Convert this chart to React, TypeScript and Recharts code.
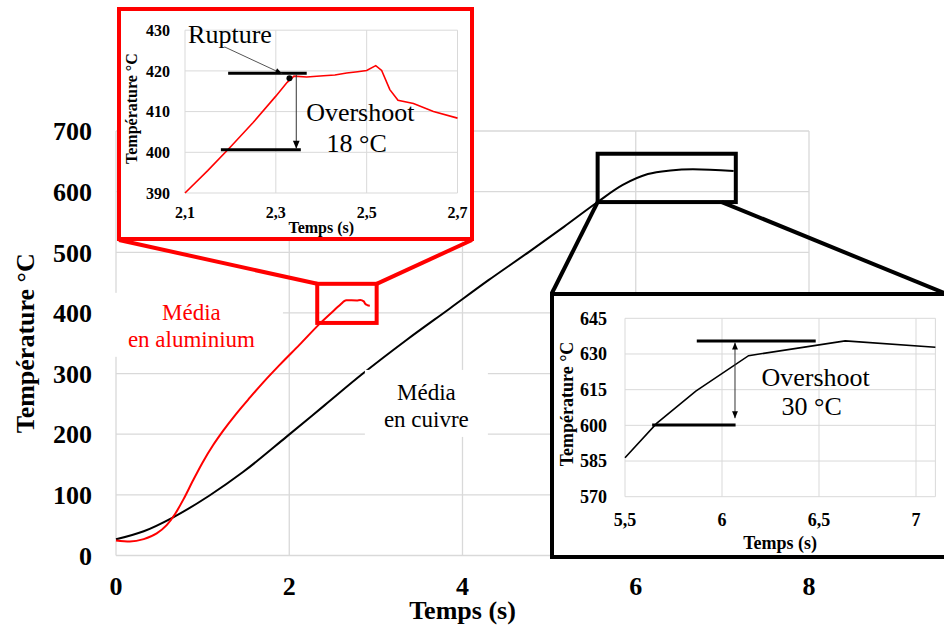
import {
  CartesianGrid,
  Label,
  Line,
  LineChart,
  ReferenceArea,
  ReferenceDot,
  ReferenceLine,
  XAxis,
  YAxis,
} from "recharts"

const SERIF = "'Liberation Serif', 'Times New Roman', serif"
const RED = "#ff0000"
const GRID = "#d9d9d9"

// Courbe principale : média en cuivre (temps s, température °C)
const cuivreTemps = [0, 0.32, 0.66, 1.08, 1.47, 1.97, 2.41, 2.85, 3.35, 3.85, 4.3, 4.78, 5.17, 5.56, 5.85, 6.14, 6.4, 6.66, 7.13]
const cuivreTemp = [26.7, 40, 63, 99, 138, 196, 248, 300, 355, 407, 454, 502, 542, 583, 611, 629, 635, 637, 634]

// Courbe principale : média en aluminium
const aluTemps = [0, 0.16, 0.32, 0.47, 0.585, 0.68, 0.78, 0.89, 1.0, 1.12, 1.24, 1.39, 1.55, 1.7, 1.89, 2.12, 2.35, 2.6, 2.63, 2.66, 2.78, 2.82, 2.86, 2.875, 2.9, 2.93]
const aluTemp = [24.6, 23, 27, 36.4, 50, 68, 93, 124, 153.5, 181.7, 206.3, 234, 261, 285.5, 314.4, 347.8, 382, 415, 419, 421, 420.6, 421.2, 419, 415.5, 413, 412]

// Zoom rupture (aluminium)
const zoomAluTemps = [2.1, 2.15, 2.2, 2.25, 2.3, 2.325, 2.34, 2.368, 2.405, 2.43, 2.456, 2.48, 2.5, 2.52, 2.533, 2.551, 2.569, 2.603, 2.647, 2.7]
const zoomAluTemp = [390, 395.5, 401.3, 407.3, 413.8, 417.2, 418.7, 418.5, 418.8, 419.0, 419.5, 419.8, 420.1, 421.3, 420.1, 415.4, 412.8, 412, 410, 408.4]

// Zoom overshoot (cuivre)
const zoomCuTemps = [5.5, 5.663, 5.865, 6.137, 6.635, 7.1]
const zoomCuTemp = [586.4, 600.8, 614.4, 629.3, 635.5, 632.8]

const mainXTicks = [0, 2, 4, 6, 8]
const mainYTicks = [0, 100, 200, 300, 400, 500, 600, 700]
const aluXTicks = [2.1, 2.3, 2.5, 2.7]
const aluYTicks = [390, 400, 410, 420, 430]
const cuXTicks = [5.5, 6, 6.5, 7]
const cuYTicks = [570, 585, 600, 615, 630, 645]

const toPts = (ts: number[], vs: number[]) => ts.map((t, i) => ({ t, c: vs[i] }))
const comma = (v: number) => String(v).replace(".", ",")

function textShape(text: string, size: number, color = "#000") {
  return (p: { cx?: number; cy?: number }) => (
    <text
      x={p.cx ?? 0}
      y={p.cy ?? 0}
      textAnchor="middle"
      dominantBaseline="central"
      fontFamily={SERIF}
      fontSize={size}
      fill={color}
    >
      {text}
    </text>
  )
}

/** Étiquette sur fond blanc (masque la grille). */
function boxedLabel(lines: string[], color: string, w: number, h: number, offsets: number[]) {
  return (p: { cx?: number; cy?: number }) => {
    const cx = p.cx ?? 0
    const cy = p.cy ?? 0
    return (
      <g>
        <rect x={cx - w / 2} y={cy - h / 2} width={w} height={h} fill="#fff" />
        {lines.map((l, i) => (
          <text
            key={l}
            x={cx}
            y={cy + offsets[i]}
            textAnchor="middle"
            dominantBaseline="central"
            fontFamily={SERIF}
            fontSize={23}
            fill={color}
          >
            {l}
          </text>
        ))}
      </g>
    )
  }
}

function arrowShape(both: boolean, size: number, color = "#333") {
  return (p: { x1?: number; y1?: number; x2?: number; y2?: number }) => {
    const x1 = p.x1 ?? 0
    const y1 = p.y1 ?? 0
    const x2 = p.x2 ?? 0
    const y2 = p.y2 ?? 0
    const head = (tx: number, ty: number, fx: number, fy: number) => {
      const a = Math.atan2(ty - fy, tx - fx)
      const bx = tx - size * Math.cos(a)
      const by = ty - size * Math.sin(a)
      const w = size * 0.42
      const pts = [
        [tx, ty],
        [bx + w * Math.sin(a), by - w * Math.cos(a)],
        [bx - w * Math.sin(a), by + w * Math.cos(a)],
      ]
      return <polygon points={pts.map((q) => q.join(",")).join(" ")} fill="#000" />
    }
    return (
      <g>
        <line x1={x1} y1={y1} x2={x2} y2={y2} stroke={color} strokeWidth={1} />
        {head(x2, y2, x1, y1)}
        {both && head(x1, y1, x2, y2)}
      </g>
    )
  }
}

/** Cadre de zoom + traits vers l'encart. */
function zoomFrame(color: string, left: [number, number], right: [number, number], fromBottom: boolean, rightInset = 0) {
  return (p: { x?: number; y?: number; width?: number; height?: number }) => {
    const x = p.x ?? 0
    const y = p.y ?? 0
    const w = p.width ?? 0
    const h = p.height ?? 0
    const yy = fromBottom ? y + h : y
    return (
      <g>
        <rect x={x} y={y} width={w} height={h} fill="none" stroke={color} strokeWidth={4} />
        <line x1={x} y1={yy} x2={left[0]} y2={left[1]} stroke={color} strokeWidth={4} />
        <line x1={x + w - rightInset} y1={yy} x2={right[0]} y2={right[1]} stroke={color} strokeWidth={4} />
      </g>
    )
  }
}

function yTitle(text: string, size: number, dx: number, dy = 0) {
  return (props: { viewBox?: { x: number; y: number; width: number; height: number } }) => {
    const vb = props.viewBox ?? { x: 0, y: 0, width: 0, height: 0 }
    const cx = vb.x + dx
    const cy = vb.y + vb.height / 2 + dy
    return (
      <text
        x={cx}
        y={cy}
        transform={`rotate(-90 ${cx} ${cy})`}
        textAnchor="middle"
        dominantBaseline="central"
        fontFamily={SERIF}
        fontSize={size}
        fontWeight="bold"
        fill="#000"
      >
        {text}
      </text>
    )
  }
}

function xTitle(text: string, size: number, dy: number) {
  return (props: { viewBox?: { x: number; y: number; width: number; height: number } }) => {
    const vb = props.viewBox ?? { x: 0, y: 0, width: 0, height: 0 }
    return (
      <text
        x={vb.x + vb.width / 2}
        y={vb.y + dy}
        textAnchor="middle"
        fontFamily={SERIF}
        fontSize={size}
        fontWeight="bold"
        fill="#000"
      >
        {text}
      </text>
    )
  }
}

function MainChart() {
  return (
    <LineChart width={944} height={626} margin={{ top: 131, right: 135, bottom: 0, left: 0 }}>
      <CartesianGrid stroke={GRID} strokeWidth={1.3} />
      <XAxis
        type="number"
        dataKey="t"
        domain={[0, 8]}
        ticks={mainXTicks}
        interval={0}
        height={70.5}
        tickLine={false}
        axisLine={false}
        tickMargin={15}
        tick={{ fill: "#000", fontSize: 26, fontWeight: "bold", fontFamily: SERIF }}
      >
        <Label content={xTitle("Temps (s)", 26, 63.5)} />
      </XAxis>
      <YAxis
        type="number"
        domain={[0, 700]}
        ticks={mainYTicks}
        interval={0}
        width={116}
        tickLine={false}
        axisLine={false}
        tickMargin={18}
        tick={{ fill: "#000", fontSize: 26, fontWeight: "bold", fontFamily: SERIF }}
      >
        <Label content={yTitle("Température °C", 26, 25)} />
      </YAxis>
      <ReferenceDot
        x={0.871}
        y={380.4}
        r={0}
        shape={boxedLabel(["Média", "en aluminium"], RED, 183, 64, [-12, 15])}
      />
      <ReferenceDot
        x={3.583}
        y={250.8}
        r={0}
        shape={boxedLabel(["Média", "en cuivre"], "#000", 123, 67, [-10.5, 16.5])}
      />
      <Line
        data={toPts(cuivreTemps, cuivreTemp)}
        dataKey="c"
        type="monotone"
        stroke="#000"
        strokeWidth={2}
        dot={false}
        isAnimationActive={false}
      />
      <Line
        data={toPts(aluTemps, aluTemp)}
        dataKey="c"
        type="monotone"
        stroke={RED}
        strokeWidth={2}
        dot={false}
        isAnimationActive={false}
      />
      <ReferenceArea
        x1={2.323}
        x2={3.009}
        y1={383.5}
        y2={448}
        shape={zoomFrame(RED, [119, 240], [472, 240], false)}
      />
      <ReferenceArea
        x1={5.56}
        x2={7.155}
        y1={582.8}
        y2={662.5}
        shape={zoomFrame("#000", [552, 293], [944, 293], true, 14)}
      />
    </LineChart>
  )
}

function AluInset() {
  return (
    <div
      style={{
        position: "absolute",
        left: 117,
        top: 7,
        width: 357,
        height: 234,
        border: `4px solid ${RED}`,
        boxSizing: "border-box",
        background: "#fff",
      }}
    >
      <LineChart width={349} height={226} margin={{ top: 19.2, right: 12.5, bottom: 0, left: 0 }}>
        <CartesianGrid stroke={GRID} />
        <XAxis
          type="number"
          dataKey="t"
          domain={[2.1, 2.7]}
          ticks={aluXTicks}
          interval={0}
          height={44}
          tickLine={false}
          axisLine={false}
          tickMargin={8}
          tickFormatter={comma}
          tick={{ fill: "#000", fontSize: 16, fontWeight: "bold", fontFamily: SERIF }}
        >
          <Label content={xTitle("Temps (s)", 16, 40)} />
        </XAxis>
        <YAxis
          type="number"
          domain={[390, 430]}
          ticks={aluYTicks}
          interval={0}
          width={64}
          tickLine={false}
          axisLine={false}
          tickMargin={9}
          tick={{ fill: "#000", fontSize: 16, fontWeight: "bold", fontFamily: SERIF }}
        >
          <Label content={yTitle("Température °C", 16, 10.7, -3)} />
        </YAxis>
        <Line
          data={toPts(zoomAluTemps, zoomAluTemp)}
          dataKey="c"
          type="linear"
          stroke={RED}
          strokeWidth={1.6}
          dot={false}
          isAnimationActive={false}
        />
        <ReferenceLine segment={[{ x: 2.195, y: 419.4 }, { x: 2.368, y: 419.4 }]} stroke="#000" strokeWidth={3} />
        <ReferenceLine segment={[{ x: 2.179, y: 400.6 }, { x: 2.355, y: 400.6 }]} stroke="#000" strokeWidth={3} />
        <ReferenceLine segment={[{ x: 2.345, y: 419.2 }, { x: 2.345, y: 400.9 }]} shape={arrowShape(false, 8)} />
        <ReferenceLine segment={[{ x: 2.187, y: 425.9 }, { x: 2.314, y: 419.3 }]} shape={arrowShape(false, 7, "#555")} />
        <ReferenceDot x={2.33} y={418.2} r={3} fill="#000" stroke="none" />
        <ReferenceDot x={2.199} y={428.9} r={0} shape={textShape("Rupture", 26)} />
        <ReferenceDot x={2.486} y={409.8} r={0} shape={textShape("Overshoot", 26)} />
        <ReferenceDot x={2.478} y={402.1} r={0} shape={textShape("18 °C", 26)} />
      </LineChart>
    </div>
  )
}

function CuivreInset() {
  return (
    <div
      style={{
        position: "absolute",
        left: 550,
        top: 292,
        width: 404,
        height: 267,
        border: "4px solid #000",
        boxSizing: "border-box",
        background: "#fff",
      }}
    >
      <LineChart width={396} height={259} margin={{ top: 22.3, right: 14.6, bottom: 0, left: 0 }}>
        <CartesianGrid stroke={GRID} />
        <XAxis
          type="number"
          dataKey="t"
          domain={[5.5, 7.1]}
          ticks={cuXTicks}
          interval={0}
          height={58.3}
          tickLine={false}
          axisLine={false}
          tickMargin={10.6}
          tickFormatter={comma}
          tick={{ fill: "#000", fontSize: 18, fontWeight: "bold", fontFamily: SERIF }}
        >
          <Label content={xTitle("Temps (s)", 18, 52.3)} />
        </XAxis>
        <YAxis
          type="number"
          domain={[570, 645]}
          ticks={cuYTicks}
          interval={0}
          width={71}
          tickLine={false}
          axisLine={false}
          tickMargin={12}
          tick={{ fill: "#000", fontSize: 18, fontWeight: "bold", fontFamily: SERIF }}
        >
          <Label content={yTitle("Température °C", 18, 12.7, -3.5)} />
        </YAxis>
        <Line
          data={toPts(zoomCuTemps, zoomCuTemp)}
          dataKey="c"
          type="linear"
          stroke="#000"
          strokeWidth={1.6}
          dot={false}
          isAnimationActive={false}
        />
        <ReferenceLine segment={[{ x: 5.87, y: 635.5 }, { x: 6.483, y: 635.5 }]} stroke="#000" strokeWidth={3} />
        <ReferenceLine segment={[{ x: 5.64, y: 600.1 }, { x: 6.07, y: 600.1 }]} stroke="#000" strokeWidth={3} />
        <ReferenceLine segment={[{ x: 6.067, y: 634.8 }, { x: 6.067, y: 603 }]} shape={arrowShape(true, 7)} />
        <ReferenceDot x={6.483} y={620.2} r={0} shape={textShape("Overshoot", 26)} />
        <ReferenceDot x={6.462} y={607.8} r={0} shape={textShape("30 °C", 26)} />
      </LineChart>
    </div>
  )
}

export default function App() {
  return (
    <div
      style={{
        position: "relative",
        width: 944,
        height: 626,
        overflow: "hidden",
        background: "#fff",
        fontFamily: SERIF,
      }}
    >
      <style>{"body{margin:0}"}</style>
      <MainChart />
      <AluInset />
      <CuivreInset />
    </div>
  )
}
